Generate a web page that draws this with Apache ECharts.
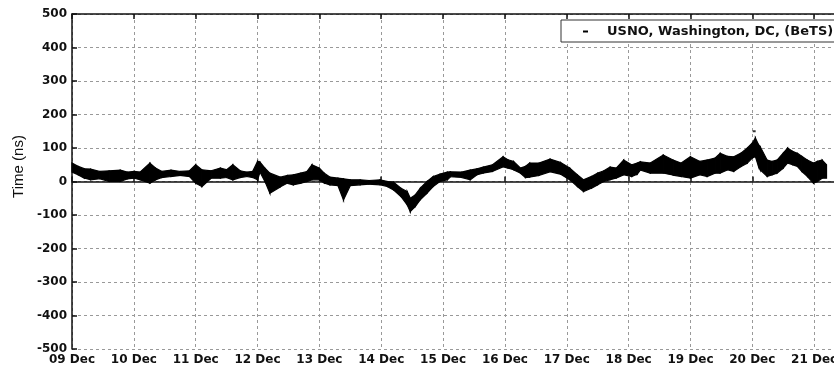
<!DOCTYPE html>
<html>
<head>
<meta charset="utf-8">
<script src="https://cdn.jsdelivr.net/npm/echarts@6/dist/echarts.min.js"></script>
<style>
  html, body { margin: 0; padding: 0; background: #fff; }
  #main { width: 834px; height: 368px; }
</style>
</head>
<body>
<div id="main"></div>
<script>
// x positions in days after 09 Dec 00:00
var days = [0.00, 0.10, 0.20, 0.30, 0.45, 0.60, 0.78, 0.90, 1.00, 1.10, 1.26, 1.35, 1.45, 1.60, 1.75, 1.90,
  2.00, 2.10, 2.25, 2.40, 2.50, 2.60, 2.72, 2.83, 2.92, 3.00, 3.04, 3.12, 3.20, 3.37, 3.48, 3.58, 3.70, 3.80,
  3.88, 4.00, 4.08, 4.17, 4.30, 4.39, 4.50, 4.66, 4.80, 4.98, 5.10, 5.20, 5.32, 5.42, 5.47, 5.55, 5.63, 5.74,
  5.84, 5.95, 6.07, 6.12, 6.30, 6.44, 6.55, 6.65, 6.80, 6.97, 7.05, 7.14, 7.25, 7.33, 7.40, 7.55, 7.73, 7.90,
  8.05, 8.17, 8.27, 8.40, 8.50, 8.60, 8.70, 8.80, 8.92, 9.05, 9.14, 9.19, 9.35, 9.56, 9.72, 9.85, 10.00, 10.15,
  10.27, 10.40, 10.48, 10.60, 10.70, 10.82, 10.92, 11.00, 11.05, 11.10, 11.13, 11.24, 11.32, 11.40, 11.50,
  11.57, 11.65, 11.73, 11.80, 11.89, 11.99, 12.05, 12.13, 12.20];

// upper and lower edge of the noisy trace (ns)
var upper = [55, 45, 38, 37, 30, 32, 34, 28, 30, 28, 55, 40, 30, 34, 30, 32,
  50, 35, 32, 40, 35, 50, 32, 28, 30, 60, 58, 40, 25, 13, 18, 20, 25, 30,
  50, 40, 25, 13, 10, 8, 5, 5, 3, 5, 0, -2, -20, -30, -50, -40, -20, 0,
  15, 22, 28, 29, 28, 34, 38, 43, 50, 74, 65, 60, 40, 45, 55, 55, 67, 57,
  40, 20, 5, 15, 25, 32, 43, 40, 64, 50, 55, 59, 55, 79, 64, 55, 74, 60,
  64, 70, 84, 75, 74, 85, 100, 115, 130, 110, 103, 64, 60, 64, 85,
  100, 90, 84, 75, 64, 55, 60, 64, 50];
var lower = [28, 20, 10, 5, 8, 0, 0, 8, 10, 5, -5, 5, 12, 15, 18, 15,
  -5, -15, 10, 10, 12, 5, 12, 15, 12, 5, 28, 0, -35, -16, -5, -10, -5, 0,
  5, 5, -5, -10, -12, -55, -12, -10, -8, -10, -15, -25, -45, -70, -90, -75, -55, -35,
  -15, 0, 5, 14, 12, 5, 20, 25, 30, 44, 40, 35, 25, 12, 13, 18, 29, 22,
  5, -15, -30, -20, -10, 0, 5, 10, 20, 15, 22, 34, 25, 25, 19, 15, 10, 20,
  15, 25, 25, 35, 30, 45, 55, 70, 74, 45, 34, 15, 20, 25, 40,
  55, 50, 45, 30, 15, -5, 0, 10, 10];

var outliers = [[11.03, 150]];

var tickLabels = ['09 Dec', '10 Dec', '11 Dec', '12 Dec', '13 Dec', '14 Dec', '15 Dec',
  '16 Dec', '17 Dec', '18 Dec', '19 Dec', '20 Dec', '21 Dec', '22 Dec'];

var seriesName = 'USNO, Washington, DC, (BeTS)';

// one segment of the band per pair of neighbouring samples
var segments = [];
for (var i = 0; i < days.length - 1; i++) {
  segments.push([days[i], upper[i], lower[i], days[i + 1], upper[i + 1], lower[i + 1]]);
}

function renderBand(params, api) {
  var a = api.coord([api.value(0), api.value(1)]);
  var b = api.coord([api.value(3), api.value(4)]);
  var c = api.coord([api.value(3), api.value(5)]);
  var d = api.coord([api.value(0), api.value(2)]);
  return {
    type: 'polygon',
    shape: { points: [a, b, c, d] },
    style: { fill: '#000', stroke: '#000', lineWidth: 1.2 }
  };
}

var labelFont = {
  fontFamily: 'DejaVu Sans',
  fontSize: 12,
  fontWeight: 'bold',
  color: '#111'
};

var option = {
  animation: false,
  backgroundColor: '#fff',
  grid: {
    left: 72,
    top: 14,
    right: -42,
    bottom: 19,
    outerBoundsMode: 'none'
  },
  legend: {
    data: [{ name: seriesName, icon: 'rect', itemStyle: { color: '#000' } }],
    left: 561,
    top: 20,
    padding: [5, 8, 4, 22],
    backgroundColor: '#fff',
    borderColor: '#333',
    borderWidth: 1,
    borderRadius: 0,
    itemWidth: 5,
    itemHeight: 2,
    textStyle: {
      fontFamily: 'DejaVu Sans',
      fontSize: 13,
      fontWeight: 'bold',
      color: '#111',
      padding: [0, 0, 0, 14]
    }
  },
  xAxis: [
    {
      type: 'value',
      min: 0,
      max: 13,
      interval: 1,
      axisLine: { show: true, lineStyle: { color: '#111', width: 1.5 } },
      axisTick: { inside: true, length: 5, lineStyle: { color: '#111', width: 1.5 } },
      axisLabel: Object.assign({
        margin: 5,
        formatter: function (v) { return tickLabels[Math.round(v)] || ''; }
      }, labelFont),
      splitLine: { show: true, lineStyle: { color: '#999', width: 1, type: [3, 3] } }
    },
    {
      type: 'value',
      position: 'top',
      min: 0,
      max: 13,
      interval: 1,
      axisLine: { show: true, lineStyle: { color: '#111', width: 1.5 } },
      axisTick: { inside: true, length: 5, lineStyle: { color: '#111', width: 1.5 } },
      axisLabel: { show: false },
      splitLine: { show: false }
    }
  ],
  yAxis: {
    type: 'value',
    min: -500,
    max: 500,
    interval: 100,
    name: 'Time (ns)',
    nameLocation: 'middle',
    nameGap: 38,
    nameTextStyle: {
      fontFamily: 'Liberation Sans',
      fontSize: 15,
      color: '#111',
      padding: [0, 0, 0, 30]
    },
    axisLine: { show: true, lineStyle: { color: '#111', width: 1.5 } },
    axisTick: { inside: true, length: 5, lineStyle: { color: '#111', width: 1.5 } },
    axisLabel: Object.assign({ margin: 5 }, labelFont),
    splitLine: { show: true, lineStyle: { color: '#999', width: 1, type: [3, 3] } }
  },
  series: [
    {
      name: seriesName,
      type: 'custom',
      renderItem: renderBand,
      data: segments,
      encode: { x: [0, 3], y: [1, 2, 4, 5] },
      itemStyle: { color: '#000' }
    },
    {
      name: 'outlier',
      type: 'scatter',
      data: outliers,
      symbol: 'rect',
      symbolSize: [3, 2],
      itemStyle: { color: '#000' }
    }
  ]
};

var chart = echarts.init(document.getElementById('main'), null, { renderer: 'canvas' });
chart.setOption(option);
window.addEventListener('resize', function () {
  chart.resize();
});
</script>
</body>
</html>
